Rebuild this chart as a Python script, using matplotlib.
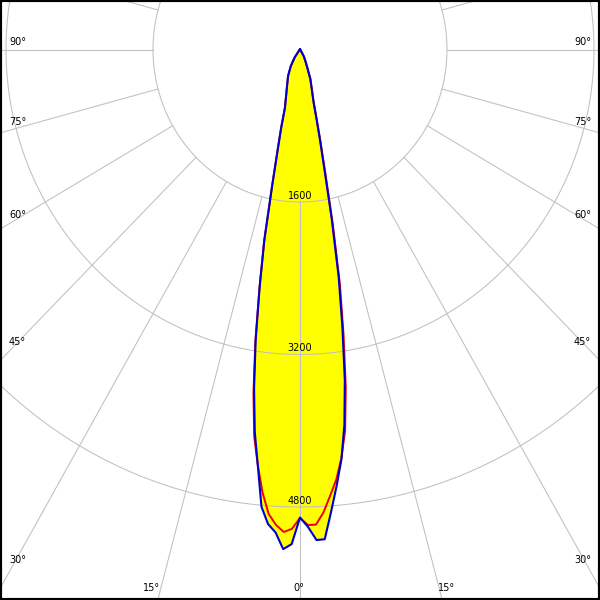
import numpy as np
import matplotlib.pyplot as plt

# gamma angles (deg) and luminous intensity (cd)
gamma = np.array([0, 1, 2, 3, 4, 5, 6, 7, 8, 9, 10, 11, 12, 13, 14, 15,
                  17.5, 20, 22.5, 25, 30, 35, 40, 45, 60, 75, 90])

# C0-C180 plane (red)
c180 = np.array([4915, 5030, 5065, 4995, 4885, 4670, 4390, 4090, 3640, 3110,
                 2540, 2040, 1450, 1080, 850, 635, 500, 415, 353, 308, 200,
                 100, 20, 0, 0, 0, 0])
c0 = np.array([4915, 4990, 4988, 4865, 4695, 4530, 4310, 4030, 3580, 3030,
               2500, 1880, 1320, 990, 740, 575, 420, 330, 211, 150, 85,
               20, 0, 0, 0, 0, 0])

# C90-C270 plane (blue)
c270 = np.array([4910, 5190, 5245, 5075, 4990, 4815, 4390, 4040, 3590, 3085,
                 2530, 2030, 1450, 1080, 850, 635, 500, 415, 353, 308, 200,
                 100, 20, 0, 0, 0, 0])
c90 = np.array([4910, 5010, 5150, 5145, 4860, 4590, 4320, 3965, 3505, 2950,
                2425, 1810, 1265, 950, 725, 570, 418, 330, 211, 150, 85,
                20, 0, 0, 0, 0, 0])

rings = [1600, 3200, 4800]
spokes = np.arange(-180, 181, 15)

# angle labels: text, x, y in pixels, alignment
angle_labels = [("90°", 9, 42, "left"), ("75°", 9, 122, "left"),
                ("60°", 9, 215, "left"), ("45°", 9, 342, "left"),
                ("30°", 9, 560, "left"), ("15°", 152, 588, "center"),
                ("0°", 299, 588, "center"), ("15°", 447, 588, "center"),
                ("90°", 591, 42, "right"), ("75°", 591, 122, "right"),
                ("60°", 591, 215, "right"), ("45°", 591, 342, "right"),
                ("30°", 591, 560, "right")]

# pixel layout of the 600x600 picture
W = H = 600
cx, cy = 300, 49.5
kx = 147.0 / 1600     # px per cd horizontally
ky = 152.5 / 1600     # px per cd vertically

fig = plt.figure(figsize=(6, 6), dpi=100)
ax = fig.add_axes([0, 0, 1, 1])
ax.set_xlim(-cx / kx, (W - cx) / kx)
ax.set_ylim((H - cy) / ky, -cy / ky)
ax.set_xticks([])
ax.set_yticks([])
for s in ax.spines.values():
    s.set_linewidth(3)
    s.set_color("black")


def outline(left, right):
    g = np.radians(gamma)
    x = np.concatenate([(-left * np.sin(g))[::-1], (right * np.sin(g))[1:]])
    y = np.concatenate([(left * np.cos(g))[::-1], (right * np.cos(g))[1:]])
    return x, y


xr, yr = outline(c180, c0)
xb, yb = outline(c270, c90)

ax.fill(xb, yb, color="#ffff00", lw=0, zorder=1)
ax.fill(xr, yr, color="#ffff00", lw=0, zorder=1)

grid_col = "#c0c0c0"
t = np.linspace(0, 2 * np.pi, 721)
for r in rings:
    ax.plot(r * np.sin(t), r * np.cos(t), color=grid_col, lw=0.75, zorder=2)
    ax.annotate(str(r), (0, r), xytext=(0, 4.5), textcoords="offset points",
                ha="center", va="center", fontsize=7, zorder=3)

for a in spokes:
    g = np.radians(a)
    ax.plot([rings[0] * np.sin(g), 20000 * np.sin(g)],
            [rings[0] * np.cos(g), 20000 * np.cos(g)],
            color=grid_col, lw=0.75, zorder=2)

for txt, px, py, ha in angle_labels:
    ax.text(px / W, 1 - py / H, txt, transform=ax.transAxes, ha=ha,
            va="center", fontsize=7)

ax.plot(xr, yr, color="#ee0000", lw=1.4, zorder=4)
ax.plot(xb, yb, color="#0000cc", lw=1.5, zorder=5)

fig.savefig("out.png", dpi=100)
